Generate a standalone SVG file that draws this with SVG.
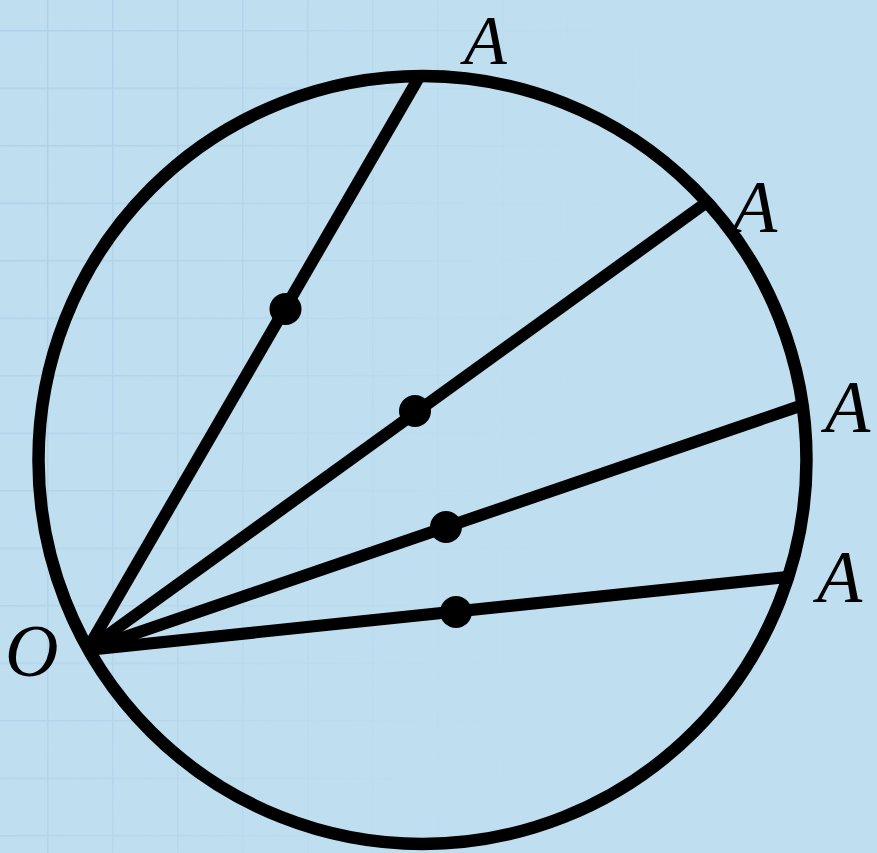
<svg xmlns="http://www.w3.org/2000/svg" width="877" height="853" viewBox="0 0 877 853">
  <defs>
    <style>
      .ray { stroke: #000; stroke-width: 12; stroke-linecap: butt; fill: none; }
      .dot { fill: #000; }
      .lbl { font-family: "Liberation Serif", "Times New Roman", serif; font-style: italic; font-size: 74px; fill: #000; }
    </style>
    <pattern id="grid" x="47" y="30" width="65" height="57.5" patternUnits="userSpaceOnUse">
      <path d="M0 0 V57.5 M0 0 H65" stroke="#aacde5" stroke-width="3" fill="none"/>
    </pattern>
    <linearGradient id="fade" x1="0" y1="0" x2="1" y2="0.25">
      <stop offset="0" stop-color="#fff" stop-opacity="1"/>
      <stop offset="0.3" stop-color="#fff" stop-opacity="0.7"/>
      <stop offset="0.6" stop-color="#fff" stop-opacity="0.15"/>
      <stop offset="0.8" stop-color="#fff" stop-opacity="0"/>
    </linearGradient>
    <mask id="gridMask">
      <rect width="877" height="853" fill="url(#fade)"/>
    </mask>
  </defs>

  <rect width="877" height="853" fill="#bfdff1"/>
  <rect width="877" height="853" fill="url(#grid)" mask="url(#gridMask)" opacity="0.8"/>

  <g id="connectors">
    <line class="ray" x1="87" y1="650" x2="418" y2="79"/>
    <line class="ray" x1="87" y1="650" x2="703" y2="205"/>
    <line class="ray" x1="87" y1="650" x2="800" y2="406"/>
    <line class="ray" x1="87" y1="650" x2="787" y2="577"/>
  </g>

  <g id="circle">
    <circle cx="422.5" cy="460" r="384" fill="none" stroke="#000" stroke-width="12.5"/>
  </g>

  <g id="dots">
    <circle class="dot" cx="285.5" cy="309" r="16"/>
    <circle class="dot" cx="415" cy="411" r="16"/>
    <circle class="dot" cx="446" cy="527" r="16"/>
    <circle class="dot" cx="456" cy="612" r="16"/>
  </g>

  <g id="labels">
    <text class="lbl" x="464" y="64" style="font-size:70px">A</text>
    <text class="lbl" x="732" y="232">A</text>
    <text class="lbl" x="825" y="432">A</text>
    <text class="lbl" x="817" y="602">A</text>
    <text class="lbl" x="5" y="676">O</text>
  </g>
</svg>
